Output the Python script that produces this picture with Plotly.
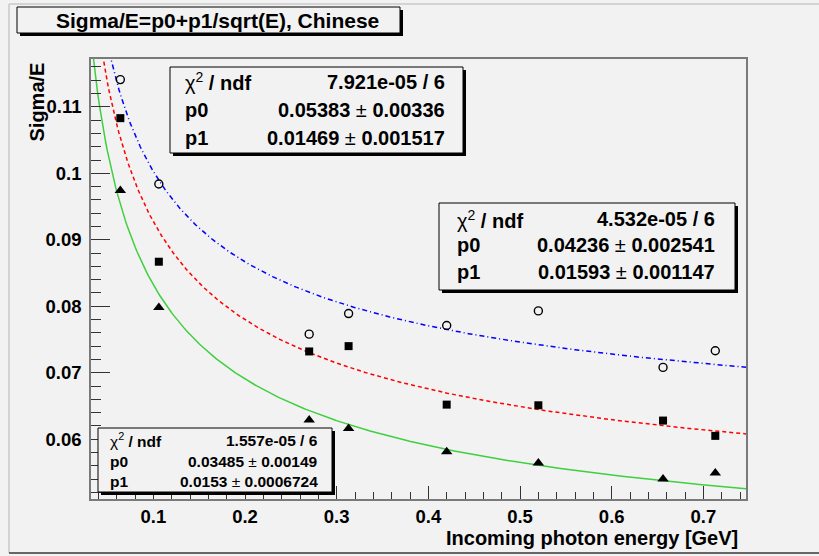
import numpy as np
import plotly.graph_objects as go

# ---------------- data ----------------
energy = [0.064, 0.106, 0.270, 0.313, 0.420, 0.520, 0.656, 0.713]
sigma_open = [0.1141, 0.0984, 0.0758, 0.0789, 0.0771, 0.0793, 0.0708, 0.0733]
sigma_square = [0.1083, 0.0867, 0.0732, 0.0740, 0.0652, 0.0651, 0.0628, 0.0605]
sigma_triangle = [0.0974, 0.0798, 0.0629, 0.0616, 0.0581, 0.0564, 0.0540, 0.0549]

# fit parameters p0, p1 shown in the stat boxes
fit_blue = [0.05383, 0.01469]
fit_red = [0.04236, 0.01593]
fit_green = [0.03485, 0.0153]

stat_blue = ["7.921e-05 / 6", "0.05383", "0.00336", "0.01469", "0.001517"]
stat_red = ["4.532e-05 / 6", "0.04236", "0.002541", "0.01593", "0.001147"]
stat_green = ["1.557e-05 / 6", "0.03485", "0.00149", "0.0153", "0.0006724"]

x_ticks = [0.1, 0.2, 0.3, 0.4, 0.5, 0.6, 0.7]
x_ticktext = ["0.1", "0.2", "0.3", "0.4", "0.5", "0.6", "0.7"]
y_ticks = [0.06, 0.07, 0.08, 0.09, 0.10, 0.11]
y_ticktext = ["0.06", "0.07", "0.08", "0.09", "0.1", "0.11"]

x_range = [0.032, 0.7465]
y_range = [0.0510, 0.1172]

# ---------------- layout geometry (pixels) ----------------
W, H = 819, 556
L, R, T, B = 91, 746, 59, 499
BG = "#f2f2f2"
FONT = "Liberation Sans"


def px(x):
    return (x - L) / (R - L)


def py(y):
    return (B - y) / (B - T)


fig = go.Figure()

# fit curves
egrid = np.linspace(x_range[0], x_range[1], 400)
for (p0, p1), col, dash in [
    (fit_blue, "#0000ff", "5px,3px,1px,3px"),
    (fit_red, "#ff0000", "4px,3px"),
    (fit_green, "#3fcf3f", "solid"),
]:
    fig.add_trace(go.Scatter(x=egrid, y=p0 + p1 / np.sqrt(egrid), mode="lines",
                             line=dict(color=col, width=1.5, dash=dash),
                             showlegend=False, hoverinfo="skip"))

# data points
fig.add_trace(go.Scatter(x=energy, y=sigma_open, mode="markers",
                         marker=dict(symbol="circle-open", size=8, color="black",
                                     line=dict(width=1.4, color="black")),
                         showlegend=False))
fig.add_trace(go.Scatter(x=energy, y=sigma_square, mode="markers",
                         marker=dict(symbol="square", size=8, color="black"),
                         showlegend=False))
fig.add_trace(go.Scatter(x=energy, y=sigma_triangle, mode="markers",
                         marker=dict(symbol="triangle-up", size=10, color="black"),
                         showlegend=False))

shapes = []
annotations = []


def box(x0, y0, x1, y1, sh=3):
    shapes.append(dict(type="rect", xref="paper", yref="paper",
                       x0=px(x0 + sh), x1=px(x1 + sh), y0=py(y0 + sh), y1=py(y1 + sh),
                       fillcolor="black", line=dict(width=0)))
    shapes.append(dict(type="rect", xref="paper", yref="paper",
                       x0=px(x0), x1=px(x1), y0=py(y0), y1=py(y1),
                       fillcolor=BG, line=dict(color="black", width=1)))


def text(x, y, s, size, xanchor="left", angle=0, yanchor="middle"):
    annotations.append(dict(x=px(x), y=py(y), xref="paper", yref="paper", text=s,
                            showarrow=False, xanchor=xanchor, yanchor=yanchor,
                            textangle=angle,
                            font=dict(family=FONT, size=size, color="black")))


def statbox(x0, y0, x1, y1, tl, tr, rows, size, vals):
    box(x0, y0, x1, y1)
    text(tl, rows[0], "χ<sup>2</sup><b> / ndf</b>", size)
    text(tl, rows[1], "<b>p0</b>", size)
    text(tl, rows[2], "<b>p1</b>", size)
    text(tr, rows[0], "<b>" + vals[0] + "</b>", size, "right")
    text(tr, rows[1], "<b>" + vals[1] + "</b> ± <b>" + vals[2] + "</b>", size, "right")
    text(tr, rows[2], "<b>" + vals[3] + "</b> ± <b>" + vals[4] + "</b>", size, "right")


# title box
box(17, 7, 400, 33)
text(217, 21, "<b>Sigma/E=p0+p1/sqrt(E), Chinese</b>", 21, "center")

statbox(170, 67, 463, 153, 183, 447, [82, 110, 138], 20, stat_blue)
statbox(439, 203, 735, 290, 455, 717, [219, 245, 272], 20, stat_red)
statbox(98, 428, 332, 492, 108, 320, [440, 461, 481], 15.5, stat_green)

# axis titles
text(740, 538, "<b>Incoming photon energy [GeV]</b>", 20, "right")
text(37, 61, "<b>Sigma/E</b>", 20, "center", angle=-90, yanchor="top")

# canvas border
shapes.append(dict(type="line", xref="paper", yref="paper", x0=px(9), x1=px(819),
                   y0=py(4), y1=py(4), line=dict(color="#c8c8c8", width=1.5)))
shapes.append(dict(type="line", xref="paper", yref="paper", x0=px(9), x1=px(9),
                   y0=py(4), y1=py(553), line=dict(color="#c8c8c8", width=1.5)))
shapes.append(dict(type="line", xref="paper", yref="paper", x0=px(9), x1=px(819),
                   y0=py(553), y1=py(553), line=dict(color="#666666", width=2)))

axis_common = dict(showgrid=False, zeroline=False, showline=True, mirror=True,
                   linecolor="#7a7a7a", linewidth=1.5, ticks="inside",
                   tickcolor="#333333", tickmode="array", automargin=False,
                   tickfont=dict(family=FONT, size=18.5, color="black", weight="bold"))

fig.update_layout(
    width=W, height=H,
    margin=dict(l=L, r=W - R, t=T, b=H - B, pad=0),
    paper_bgcolor=BG, plot_bgcolor=BG,
    showlegend=False,
    xaxis=dict(range=x_range, tickvals=x_ticks, ticktext=x_ticktext, ticklen=13,
               ticklabelstandoff=0,
               minor=dict(ticks="inside", ticklen=7, tickmode="linear", tick0=0, dtick=0.02,
                          tickcolor="#333333", showgrid=False),
               **axis_common),
    yaxis=dict(range=y_range, tickvals=y_ticks, ticktext=y_ticktext, ticklen=19,
               ticklabelstandoff=4,
               minor=dict(ticks="inside", ticklen=10, tickmode="linear", tick0=0, dtick=0.002,
                          tickcolor="#333333", showgrid=False),
               **axis_common),
    shapes=shapes,
    annotations=annotations,
)

fig.write_html("out.html")
